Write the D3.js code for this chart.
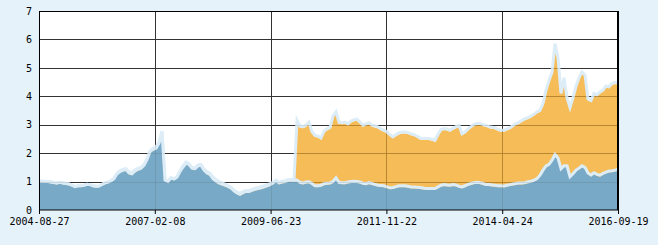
<!DOCTYPE html>
<html>
<head>
<meta charset="utf-8">
<script src="https://cdn.jsdelivr.net/npm/d3@7"></script>
<style>
  body { margin: 0; background: #e6f2fa; }
  .axis text { font-family: "DejaVu Sans Mono", monospace; font-size: 10px; fill: #000; }
</style>
</head>
<body>
<svg id="chart" width="658" height="245"></svg>
<script>
// unit net value (blue) and accumulated net value (orange), one value every ~3px
var navValues = [
  0.96,0.96,0.95,0.95,0.93,0.91,0.90,0.92,0.90,0.88,
  0.86,0.82,0.77,0.80,0.80,0.82,0.85,0.84,0.80,0.78,
  0.79,0.85,0.90,0.93,0.98,1.05,1.22,1.30,1.35,1.37,
  1.25,1.22,1.32,1.38,1.42,1.52,1.72,2.00,2.08,2.12,
  2.30,2.70,1.00,0.95,1.08,1.04,1.10,1.30,1.46,1.60,
  1.55,1.42,1.40,1.50,1.52,1.35,1.25,1.20,1.05,0.97,
  0.90,0.86,0.82,0.78,0.72,0.62,0.55,0.50,0.56,0.60,
  0.60,0.64,0.68,0.70,0.73,0.76,0.80,0.84,0.90,0.99,
  0.90,0.93,0.95,0.99,1.00,0.99,1.00,0.92,0.90,0.93,
  0.94,0.88,0.80,0.80,0.82,0.87,0.89,0.90,0.95,1.08,
  0.92,0.91,0.91,0.93,0.95,0.96,0.95,0.93,0.89,0.87,
  0.91,0.88,0.85,0.82,0.81,0.80,0.76,0.73,0.74,0.77,
  0.80,0.80,0.80,0.78,0.76,0.76,0.75,0.74,0.72,0.70,
  0.70,0.70,0.70,0.76,0.82,0.84,0.83,0.82,0.84,0.83,
  0.78,0.76,0.80,0.85,0.88,0.91,0.92,0.91,0.88,0.84,
  0.84,0.83,0.82,0.80,0.80,0.79,0.82,0.84,0.86,0.88,
  0.90,0.90,0.91,0.94,0.96,1.00,1.05,1.17,1.35,1.50,
  1.55,1.70,1.90,1.78,1.40,1.50,1.50,1.12,1.22,1.35,
  1.42,1.50,1.45,1.25,1.18,1.26,1.20,1.17,1.24,1.28,
  1.32,1.33,1.35,1.38
];
var accValues = [
  0.96,0.96,0.95,0.95,0.93,0.91,0.90,0.92,0.90,0.88,
  0.86,0.82,0.77,0.80,0.80,0.82,0.85,0.84,0.80,0.78,
  0.79,0.85,0.90,0.93,0.98,1.05,1.24,1.33,1.38,1.40,
  1.28,1.27,1.36,1.41,1.45,1.55,1.75,2.02,2.12,2.17,
  2.33,2.72,1.00,0.95,1.08,1.04,1.12,1.33,1.50,1.64,
  1.58,1.44,1.42,1.53,1.55,1.39,1.30,1.24,1.10,1.02,
  0.95,0.90,0.86,0.81,0.75,0.65,0.58,0.53,0.59,0.63,
  0.63,0.67,0.71,0.73,0.77,0.80,0.84,0.87,0.92,0.99,
  0.92,0.96,0.98,1.01,1.02,1.01,3.10,2.90,2.88,2.93,
  3.04,2.70,2.57,2.55,2.48,2.72,2.80,2.85,3.25,3.40,
  3.04,3.02,3.04,2.98,3.08,3.12,3.14,3.04,2.93,2.98,
  3.02,2.93,2.90,2.87,2.80,2.75,2.69,2.60,2.52,2.60,
  2.66,2.69,2.69,2.67,2.63,2.60,2.55,2.48,2.47,2.46,
  2.46,2.44,2.40,2.60,2.78,2.81,2.80,2.75,2.82,2.88,
  2.93,2.63,2.69,2.80,2.88,2.96,2.99,2.99,2.95,2.93,
  2.88,2.86,2.84,2.78,2.75,2.75,2.80,2.84,2.92,2.99,
  3.03,3.10,3.16,3.20,3.25,3.32,3.40,3.45,3.69,4.16,
  4.50,4.80,5.80,5.30,4.05,4.60,3.90,3.55,3.90,4.30,
  4.60,4.80,4.70,3.85,3.80,4.05,4.00,4.10,4.16,4.31,
  4.28,4.40,4.43,4.42
];
var xLabels = ["2004-08-27","2007-02-08","2009-06-23","2011-11-22","2014-04-24","2016-09-19"];
var yTicks = [0,1,2,3,4,5,6,7];

var margin = {top: 11, right: 40, bottom: 35, left: 39},
    width = 658 - margin.left - margin.right,
    height = 245 - margin.top - margin.bottom;

var svg = d3.select("#chart")
  .append("g")
    .attr("transform", "translate(" + margin.left + "," + margin.top + ")");

var n = navValues.length;
var x = d3.scaleLinear().domain([0, n - 1]).range([0, width]);
var y = d3.scaleLinear().domain([0, 7]).range([height, 0]);
var tickIdx = xLabels.map(function(d, i) { return (n - 1) * i / (xLabels.length - 1); });

svg.append("rect")
  .attr("width", width).attr("height", height)
  .attr("fill", "#fff");

function drawGrid(g) {
  g.selectAll(".hg").data(yTicks.slice(1, 7)).enter().append("line")
    .attr("x1", 0).attr("x2", width)
    .attr("y1", function(d) { return Math.round(y(d)) + 0.5; })
    .attr("y2", function(d) { return Math.round(y(d)) + 0.5; });
  g.selectAll(".vg").data(tickIdx.slice(1, 5)).enter().append("line")
    .attr("y1", 0).attr("y2", height)
    .attr("x1", function(d) { return Math.round(x(d)) + 0.5; })
    .attr("x2", function(d) { return Math.round(x(d)) + 0.5; });
}

var grid = svg.append("g").attr("stroke", "#333").attr("stroke-width", 1);
drawGrid(grid);

var area = d3.area()
  .x(function(d, i) { return x(i); })
  .y0(height)
  .y1(function(d) { return y(d); });
var line = d3.line()
  .x(function(d, i) { return x(i); })
  .y(function(d) { return y(d); });

svg.append("path").datum(accValues)
  .attr("d", area).attr("fill", "rgb(242,171,46)").attr("fill-opacity", 0.8);
svg.append("path").datum(accValues)
  .attr("d", line).attr("fill", "none")
  .attr("stroke", "#dcedf8").attr("stroke-width", 3)
  .attr("transform", "translate(0,-1.5)");

svg.append("path").datum(navValues)
  .attr("d", area).attr("fill", "#78a9c6");
svg.append("path").datum(navValues)
  .attr("d", line).attr("fill", "none")
  .attr("stroke", "#dcedf8").attr("stroke-width", 3)
  .attr("transform", "translate(0,-1.5)");

var grid2 = svg.append("g").attr("stroke", "#333").attr("stroke-opacity", 0.12);
drawGrid(grid2);

// frame
svg.append("rect")
  .attr("x", 0.5).attr("y", 0.5)
  .attr("width", width - 1).attr("height", height - 0.5)
  .attr("fill", "none").attr("stroke", "#000");
svg.append("line")
  .attr("x1", width).attr("x2", width).attr("y1", 0).attr("y2", height)
  .attr("stroke", "#000").attr("stroke-width", 2);

var yAxis = d3.axisLeft(y).tickValues(yTicks).tickFormat(d3.format("d"))
  .tickSize(0).tickPadding(7);
svg.append("g").attr("class", "axis")
  .call(yAxis)
  .call(function(g) { g.select(".domain").remove(); });

var xAxis = d3.axisBottom(x)
  .tickValues(tickIdx)
  .tickFormat(function(d, i) { return xLabels[i]; })
  .tickSize(4).tickPadding(4);
svg.append("g").attr("class", "axis")
  .attr("transform", "translate(0," + height + ")")
  .call(xAxis)
  .call(function(g) { g.select(".domain").remove(); })
  .call(function(g) { g.selectAll(".tick line").attr("stroke", "#000"); });
</script>
</body>
</html>
